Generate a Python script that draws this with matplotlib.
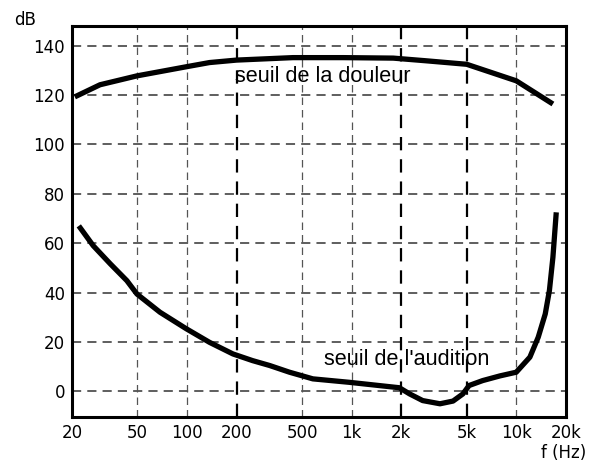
import numpy as np
import matplotlib
matplotlib.use('Agg')
import matplotlib.pyplot as plt

# seuil de la douleur (Hz, dB)
douleur_f = [20.8, 29.6, 49.6, 99, 137, 200, 440, 888, 1790, 2850, 5000, 10000, 16700]
douleur_db = [119.3, 124.2, 127.8, 131.5, 133.2, 134.2, 135.2, 135.2, 135, 133.9,
              132.5, 125.8, 116.4]

# seuil de l'audition (Hz, dB)
audition_f = [22, 26.9, 34.2, 43.1, 49.6, 68.5, 99, 137, 190, 250, 318, 419, 581,
              968, 1950, 2250, 2700, 3440, 4130, 4740, 5170, 6250, 7960, 10000,
              12100, 13600, 15000, 15900, 16700, 17500]
audition_db = [67, 59, 51.6, 44.8, 39.4, 32, 25.3, 19.8, 15.1, 12.4, 10.4, 7.7, 5.0,
               3.6, 1.4, -1.1, -3.8, -5.1, -4.0, -1.1, 2.3, 4.3, 6.2, 7.7,
               13.8, 21.9, 31.3, 40.8, 54.3, 72.5]

xticks = [20, 50, 100, 200, 500, 1000, 2000, 5000, 10000, 20000]
xlabels = ['20', '50', '100', '200', '500', '1k', '2k', '5k', '10k', '20k']
yticks = [0, 20, 40, 60, 80, 100, 120, 140]
strong_x = [200, 2000, 5000]

plt.rcParams['font.family'] = ['Liberation Sans', 'DejaVu Sans']

fig = plt.figure(figsize=(5.9, 4.65), dpi=100)
ax = fig.add_axes([0.122, 0.103, 0.837, 0.841])

ax.set_xscale('log')
ax.set_xlim(20, 20000)
ax.set_ylim(-10.5, 148)

# dashed grid, a few vertical lines drawn darker
for y in yticks:
    ax.axhline(y, color='#333333', lw=1.1, ls=(0, (6, 4)), zorder=1)
for x in xticks[1:-1]:
    if x in strong_x:
        ax.axvline(x, color='black', lw=1.6, ls=(0, (6, 4)), zorder=1)
    else:
        ax.axvline(x, color='#555555', lw=0.9, ls=(0, (6, 4)), zorder=1)

ax.plot(douleur_f, douleur_db, color='black', lw=3.8, solid_capstyle='butt',
        solid_joinstyle='round', zorder=3)
ax.plot(audition_f, audition_db, color='black', lw=3.8, solid_capstyle='butt',
        solid_joinstyle='round', zorder=3)

ax.text(196, 127.4, 'seuil de la douleur', fontsize=15.6, ha='left', va='center', zorder=4)
ax.text(683, 12.7, "seuil de l'audition", fontsize=15.6, ha='left', va='center', zorder=4)

ax.set_xticks(xticks)
ax.set_xticklabels(xlabels)
ax.minorticks_off()
ax.set_yticks(yticks)
ax.tick_params(length=0, labelsize=12, pad=5)
for lab in ax.get_xticklabels() + ax.get_yticklabels():
    lab.set_family(['DejaVu Sans'])

for sp in ax.spines.values():
    sp.set_linewidth(2.2)

fig.text(0.024, 0.957, 'dB', fontsize=12, ha='left', va='center', family=['DejaVu Sans'])
fig.text(0.993, 0.026, 'f (Hz)', fontsize=12, ha='right', va='center', family=['DejaVu Sans'])

fig.savefig('out.png', dpi=100)
